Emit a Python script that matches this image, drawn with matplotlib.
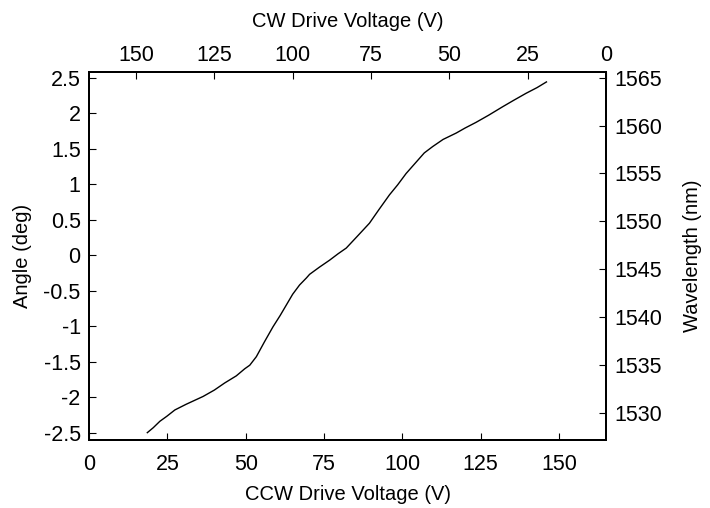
import matplotlib.pyplot as plt

plt.rcParams['font.family'] = ['Liberation Sans', 'DejaVu Sans']

# CCW drive voltage (V) and measured mirror angle (deg)
ccw_voltage = [18.6, 20.5, 22.6, 24.8, 27.4, 31.0, 36.4, 40.0, 43.3, 47.0,
               49.7, 51.3, 53.4, 56.0, 58.7, 61.0, 63.0, 65.0, 67.2, 69.4,
               70.4, 73.5, 76.8, 79.5, 82.1, 85.5, 89.5, 92.5, 95.9, 98.5,
               101.2, 104.4, 107.0, 109.7, 113.0, 117.2, 120.0, 123.5, 127.5,
               132.0, 135.5, 139.5, 143.0, 146.0]
angle_deg = [-2.50, -2.43, -2.34, -2.27, -2.18, -2.10, -1.99, -1.90, -1.80,
             -1.70, -1.60, -1.55, -1.43, -1.22, -1.01, -0.85, -0.70, -0.55,
             -0.42, -0.32, -0.27, -0.17, -0.07, 0.02, 0.10, 0.26, 0.45, 0.64,
             0.85, 0.99, 1.15, 1.31, 1.44, 1.53, 1.63, 1.72, 1.79, 1.87, 1.97,
             2.09, 2.18, 2.28, 2.36, 2.44]

angle_ticks = [-2.5, -2, -1.5, -1, -0.5, 0, 0.5, 1, 1.5, 2, 2.5]
angle_labels = ['-2.5', '-2', '-1.5', '-1', '-0.5', '0', '0.5', '1', '1.5', '2', '2.5']
voltage_ticks = [0, 25, 50, 75, 100, 125, 150]
wavelength_ticks = [1530, 1535, 1540, 1545, 1550, 1555, 1560, 1565]

tick_fs = 15.5
label_fs = 14.5
fig = plt.figure(figsize=(7.1, 5.08), dpi=100)
ax = fig.add_axes([0.1254, 0.1339, 0.7281, 0.7244])
ax.plot(ccw_voltage, angle_deg, color='black', lw=1.0)
ax.set_xlim(0, 165)
ax.set_ylim(-2.603, 2.58)
ax.set_xticks(voltage_ticks)
ax.set_yticks(angle_ticks)
ax.set_yticklabels(angle_labels)
ax.set_xlabel('CCW Drive Voltage (V)', fontsize=label_fs, labelpad=7)
ax.set_ylabel('Angle (deg)', fontsize=label_fs, labelpad=8)
ax.tick_params(axis='x', direction='in', length=5, width=0.8, labelsize=tick_fs, pad=10)
ax.tick_params(axis='y', direction='in', length=5, width=0.8, labelsize=tick_fs, pad=6)

# top axis: CW drive voltage runs the opposite way
top = ax.twiny()
top.set_xlim(165, 0)
top.set_xticks(voltage_ticks)
top.set_xlabel('CW Drive Voltage (V)', fontsize=label_fs, labelpad=13)
top.tick_params(axis='x', direction='in', length=5, width=0.8, labelsize=tick_fs, pad=4)

# right axis: corresponding wavelength
right = ax.twinx()
right.set_ylim(1527.15, 1565.6)
right.set_yticks(wavelength_ticks)
right.set_ylabel('Wavelength (nm)', fontsize=label_fs, labelpad=15)
right.tick_params(axis='y', direction='in', length=5, width=0.8, labelsize=tick_fs, pad=6)

for a in (ax, top, right):
    for s in a.spines.values():
        s.set_linewidth(1.3)

fig.savefig('out.png', dpi=100)
